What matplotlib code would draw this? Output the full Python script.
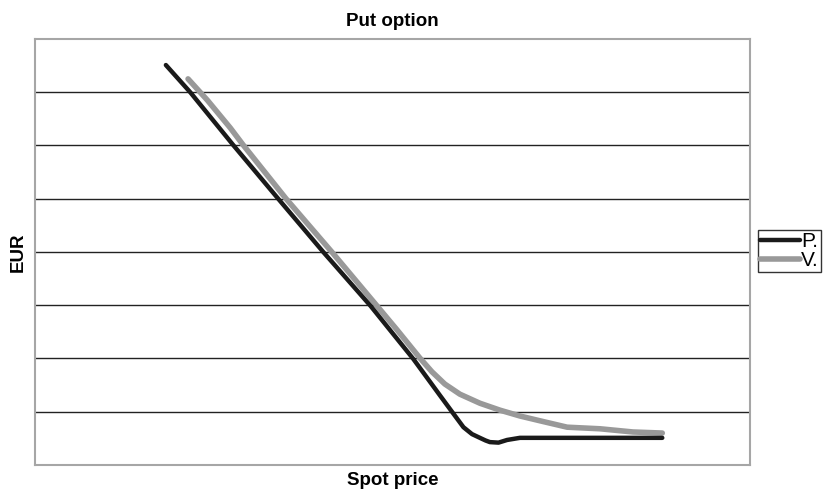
import matplotlib.pyplot as plt

plt.rcParams['font.family'] = ['Liberation Sans', 'DejaVu Sans']

# Spot price grid and option values (EUR) for the two curves
spot_p = [18.3, 21.7, 27.7, 34.0, 40.3, 46.9, 52.9, 56.6, 58.3, 59.9, 61.1, 62.2,
          63.0, 63.6, 64.8, 66.0, 67.8, 87.7]
value_p = [7.51, 7.00, 6.01, 5.00, 4.00, 2.99, 1.99, 1.31, 1.00, 0.71, 0.58, 0.51,
           0.46, 0.43, 0.42, 0.47, 0.51, 0.51]

spot_v = [21.4, 24.1, 27.3, 29.1, 35.1, 41.5, 47.8, 50.6, 53.8, 55.5, 57.3, 59.4,
          62.2, 65.0, 67.8, 70.6, 74.4, 79.0, 83.6, 87.7]
value_v = [7.25, 6.85, 6.33, 6.01, 5.00, 4.00, 2.99, 2.54, 2.01, 1.75, 1.52, 1.33,
           1.16, 1.03, 0.92, 0.83, 0.71, 0.68, 0.62, 0.60]

fig = plt.figure(figsize=(8.25, 4.96), dpi=100)
ax = fig.add_axes([0.0424, 0.0625, 0.867, 0.859])

# horizontal grid lines
for level in range(1, 8):
    ax.axhline(level, color='#222222', linewidth=1.0, zorder=1)

ax.plot(spot_v, value_v, color='#999999', linewidth=4.0, solid_capstyle='round',
        solid_joinstyle='round', label='V.', zorder=2)
ax.plot(spot_p, value_p, color='#1a1a1a', linewidth=3.2, solid_capstyle='round',
        solid_joinstyle='round', label='P.', zorder=3)

ax.set_xlim(0, 100)
ax.set_ylim(0, 8)
ax.set_xticks([])
ax.set_yticks([])
for s in ax.spines.values():
    s.set_color('#a6a6a6')
    s.set_linewidth(1.5)

ax.set_title('Put option', fontsize=13.5, fontweight='bold', pad=9)
ax.set_xlabel('Spot price', fontsize=13.5, fontweight='bold', labelpad=5)
ax.set_ylabel('EUR', fontsize=13.5, fontweight='bold', labelpad=6)

handles, labels = ax.get_legend_handles_labels()
leg = fig.legend(handles[::-1], labels[::-1], loc='center left',
                 bbox_to_anchor=(0.919, 0.494), fontsize=15, frameon=True,
                 fancybox=False, handlelength=1.9, handletextpad=0.05,
                 borderpad=0.1, labelspacing=0.0, borderaxespad=0)
leg.get_frame().set_edgecolor('black')
leg.get_frame().set_linewidth(1.0)

fig.savefig('out.png', dpi=100)
